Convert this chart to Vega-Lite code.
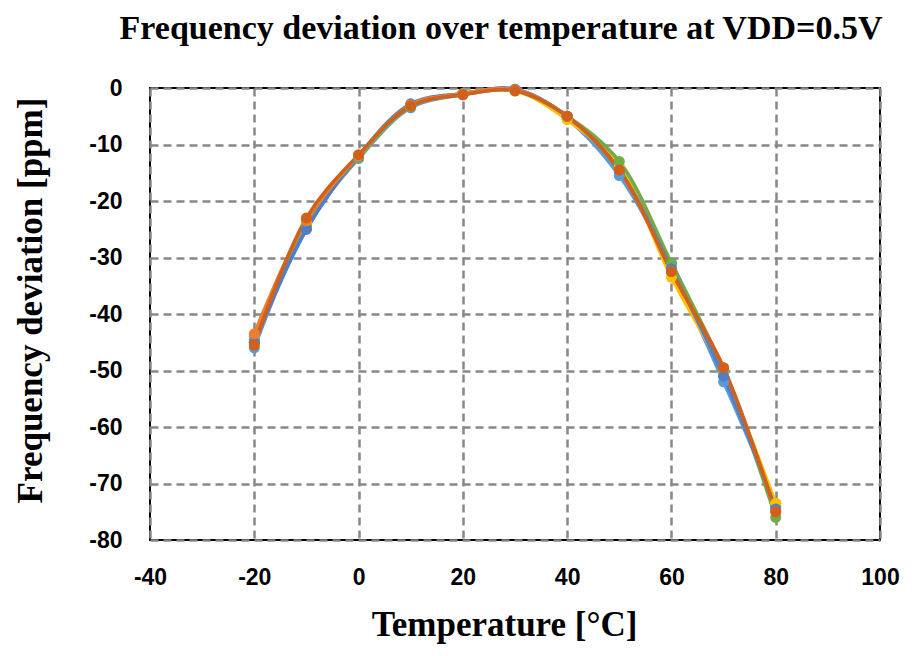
{
  "$schema": "https://vega.github.io/schema/vega-lite/v6.json",
  "autosize": "none",
  "width": 730,
  "height": 452,
  "padding": {"left": 150, "top": 88, "right": 37, "bottom": 116},
  "background": "white",
  "title": {
    "text": "Frequency deviation over temperature at VDD=0.5V",
    "font": "Liberation Serif",
    "fontSize": 34,
    "fontWeight": "bold",
    "color": "black",
    "anchor": "middle",
    "offset": 31,
    "dx": -14
  },
  "config": {
    "view": {"stroke": "black", "strokeWidth": 2},
    "axis": {
      "labelFont": "Liberation Sans",
      "labelFontSize": 23,
      "labelFontWeight": "bold",
      "labelColor": "black",
      "titleFont": "Liberation Serif",
      "titleFontSize": 35,
      "titleFontWeight": "bold",
      "titleColor": "black",
      "grid": true,
      "gridColor": "#888888",
      "gridWidth": 2.5,
      "gridDash": [8, 5],
      "ticks": false,
      "domain": false
    }
  },
  "data": {
    "values": [
      {"s": "S1", "t": -20, "v": -44.5}, {"s": "S1", "t": -10, "v": -25}, {"s": "S1", "t": 0, "v": -12}, {"s": "S1", "t": 10, "v": -3}, {"s": "S1", "t": 20, "v": -1}, {"s": "S1", "t": 30, "v": -0.2}, {"s": "S1", "t": 40, "v": -5}, {"s": "S1", "t": 50, "v": -15}, {"s": "S1", "t": 60, "v": -31}, {"s": "S1", "t": 70, "v": -51}, {"s": "S1", "t": 80, "v": -74},
      {"s": "S2", "t": -20, "v": -46}, {"s": "S2", "t": -10, "v": -24.5}, {"s": "S2", "t": 0, "v": -12.5}, {"s": "S2", "t": 10, "v": -3.5}, {"s": "S2", "t": 20, "v": -1.2}, {"s": "S2", "t": 30, "v": -0.5}, {"s": "S2", "t": 40, "v": -5.5}, {"s": "S2", "t": 50, "v": -15.5}, {"s": "S2", "t": 60, "v": -32}, {"s": "S2", "t": 70, "v": -52}, {"s": "S2", "t": 80, "v": -73.5},
      {"s": "S3", "t": -20, "v": -44}, {"s": "S3", "t": -10, "v": -24}, {"s": "S3", "t": 0, "v": -12}, {"s": "S3", "t": 10, "v": -3}, {"s": "S3", "t": 20, "v": -1}, {"s": "S3", "t": 30, "v": -0.3}, {"s": "S3", "t": 40, "v": -5}, {"s": "S3", "t": 50, "v": -14}, {"s": "S3", "t": 60, "v": -31.5}, {"s": "S3", "t": 70, "v": -50}, {"s": "S3", "t": 80, "v": -74.5},
      {"s": "S4", "t": -20, "v": -45}, {"s": "S4", "t": -10, "v": -24}, {"s": "S4", "t": 0, "v": -12}, {"s": "S4", "t": 10, "v": -3.2}, {"s": "S4", "t": 20, "v": -1}, {"s": "S4", "t": 30, "v": -0.5}, {"s": "S4", "t": 40, "v": -5.6}, {"s": "S4", "t": 50, "v": -14}, {"s": "S4", "t": 60, "v": -33.5}, {"s": "S4", "t": 70, "v": -50.5}, {"s": "S4", "t": 80, "v": -73.5},
      {"s": "S5", "t": -20, "v": -45}, {"s": "S5", "t": -10, "v": -24.5}, {"s": "S5", "t": 0, "v": -12.3}, {"s": "S5", "t": 10, "v": -3.3}, {"s": "S5", "t": 20, "v": -1.1}, {"s": "S5", "t": 30, "v": -0.5}, {"s": "S5", "t": 40, "v": -5}, {"s": "S5", "t": 50, "v": -13}, {"s": "S5", "t": 60, "v": -31}, {"s": "S5", "t": 70, "v": -50}, {"s": "S5", "t": 80, "v": -76},
      {"s": "S6", "t": -20, "v": -45}, {"s": "S6", "t": -10, "v": -25}, {"s": "S6", "t": 0, "v": -12}, {"s": "S6", "t": 10, "v": -2.8}, {"s": "S6", "t": 20, "v": -1}, {"s": "S6", "t": 30, "v": -0.2}, {"s": "S6", "t": 40, "v": -5}, {"s": "S6", "t": 50, "v": -14.5}, {"s": "S6", "t": 60, "v": -32}, {"s": "S6", "t": 70, "v": -51}, {"s": "S6", "t": 80, "v": -74.5},
      {"s": "S7", "t": -20, "v": -43.5}, {"s": "S7", "t": -10, "v": -23.5}, {"s": "S7", "t": 0, "v": -12}, {"s": "S7", "t": 10, "v": -3}, {"s": "S7", "t": 20, "v": -1}, {"s": "S7", "t": 30, "v": -0.3}, {"s": "S7", "t": 40, "v": -5}, {"s": "S7", "t": 50, "v": -14.5}, {"s": "S7", "t": 60, "v": -32.5}, {"s": "S7", "t": 70, "v": -49.5}, {"s": "S7", "t": 80, "v": -75},
      {"s": "S8", "t": -20, "v": -45.5}, {"s": "S8", "t": -10, "v": -23}, {"s": "S8", "t": 0, "v": -11.8}, {"s": "S8", "t": 10, "v": -3.2}, {"s": "S8", "t": 20, "v": -1.2}, {"s": "S8", "t": 30, "v": -0.5}, {"s": "S8", "t": 40, "v": -5}, {"s": "S8", "t": 50, "v": -14.5}, {"s": "S8", "t": 60, "v": -32.5}, {"s": "S8", "t": 70, "v": -49.5}, {"s": "S8", "t": 80, "v": -75}
    ]
  },
  "encoding": {
    "x": {
      "field": "t", "type": "quantitative",
      "scale": {"domain": [-40, 100], "nice": false},
      "axis": {"values": [-40, -20, 0, 20, 40, 60, 80, 100], "labelExpr": "'' + datum.value", "title": "Temperature [°C]", "labelPadding": 26, "titlePadding": 18, "labelFlush": false, "titleX": 354}
    },
    "y": {
      "field": "v", "type": "quantitative",
      "scale": {"domain": [-80, 0], "nice": false},
      "axis": {"values": [-80, -70, -60, -50, -40, -30, -20, -10, 0], "labelExpr": "'' + datum.value", "title": "Frequency deviation [ppm]", "labelPadding": 28, "titlePadding": 40, "labelFlush": false, "titleY": 212}
    },
    "color": {
      "field": "s", "type": "nominal", "legend": null,
      "scale": {"domain": ["S1", "S2", "S3", "S4", "S5", "S6", "S7", "S8"], "range": ["#4472C4", "#5B9BD5", "#A5A5A5", "#FFC000", "#70AD47", "#4F7FC8", "#ED7D31", "#D0601A"]}
    },
    "order": {"field": "s"}
  },
  "layer": [
    {"mark": {"type": "line", "interpolate": "catmull-rom", "strokeWidth": 3.5}},
    {"mark": {"type": "point", "filled": true, "opacity": 1, "size": 120}}
  ]
}
